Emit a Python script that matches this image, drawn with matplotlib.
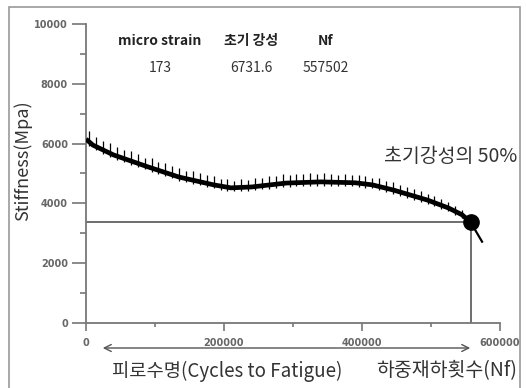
import numpy as np
import matplotlib
matplotlib.use('Agg')
import matplotlib.pyplot as plt
from matplotlib.patches import Rectangle

plt.rcParams['font.family'] = ['Noto Sans CJK KR', 'DejaVu Sans']

# stiffness trend (cycles, MPa)
cycles = [0, 10000, 40000, 90000, 135000, 185000, 210000, 240000, 290000,
          340000, 390000, 415000, 445000, 495000, 525000, 545000, 557502, 574000]
stiffness = [6150, 5950, 5620, 5220, 4880, 4620, 4520, 4550, 4680,
             4720, 4690, 4620, 4450, 4110, 3850, 3620, 3366, 2720]

# upward spikes along the curve, one every 10000 cycles (MPa above trend)
spike_start, spike_step = 5000, 10000
spike_height = [380, 340, 300, 360, 320, 280, 340, 300, 270, 330,
                290, 310, 280, 300, 260, 310, 290, 270, 300, 250,
                270, 230, 280, 250, 290, 260, 300, 270, 310, 280,
                300, 290, 310, 270, 300, 280, 260, 290, 250, 270,
                280, 240, 270, 250, 260, 230, 250, 220, 240, 210,
                230, 200, 210, 190, 170, 150]

micro_strain = 173
init_stiffness = 6731.6
Nf = 557502
half_stiffness = init_stiffness / 2

fig = plt.figure(figsize=(5.26, 3.88), dpi=100)
fig.patches.append(Rectangle((9 / 526, -0.01), 511 / 526, 1 - 7 / 388 + 0.01,
                             transform=fig.transFigure, fill=False,
                             edgecolor='#999999', lw=1.2))

ax = fig.add_axes([86 / 526, 65 / 388, 414 / 526, 299 / 388])
ax.set_xlim(0, 600000)
ax.set_ylim(0, 10000)

# trend (thick noisy band up to Nf, thin tail after) + spikes
ax.plot(cycles[:-1], stiffness[:-1], color='black', lw=3.4, solid_capstyle='butt', zorder=3)
ax.plot(cycles[-2:], stiffness[-2:], color='black', lw=1.6, zorder=3)
sx = spike_start + spike_step * np.arange(len(spike_height))
base = np.interp(sx, cycles, stiffness)
ax.vlines(sx, base - 120, base + np.array(spike_height), color='black', lw=0.9, zorder=3)

# 50% line and Nf marker
ax.plot([0, Nf], [half_stiffness, half_stiffness], color='#555555', lw=1.2, zorder=2)
ax.plot([Nf, Nf], [0, half_stiffness], color='#555555', lw=1.2, zorder=2)
ax.plot([Nf], [half_stiffness], 'o', color='black', ms=11, zorder=4)

for s in ['top', 'right']:
    ax.spines[s].set_visible(False)
for s in ['left', 'bottom']:
    ax.spines[s].set_color('#777777')
    ax.spines[s].set_linewidth(1.3)

ax.set_xticks([0, 200000, 400000, 600000])
ax.set_xticks([100000, 300000, 500000], minor=True)
ax.set_yticks([0, 2000, 4000, 6000, 8000, 10000])
ax.set_yticks([1000, 3000, 5000, 7000, 9000], minor=True)
ax.tick_params(axis='y', which='major', length=10, width=1.2, color='#777777', pad=3)
ax.tick_params(axis='y', which='minor', length=4.5, width=1.2, color='#777777')
ax.tick_params(axis='x', which='major', length=6, width=1.2, color='#777777', pad=5)
ax.tick_params(axis='x', which='minor', length=3, width=1.2, color='#777777')
for lab in ax.get_xticklabels() + ax.get_yticklabels():
    lab.set_fontsize(7)
    lab.set_fontweight('bold')
    lab.set_color('#666666')
    lab.set_family('DejaVu Sans')

# header table
hdr_y, val_y = 41, 68
cols = [160, 251, 326]
for x, h, v in zip(cols, ['micro strain', '초기 강성', 'Nf'],
                   [str(micro_strain), f'{init_stiffness}', str(Nf)]):
    fig.text(x / 526, 1 - hdr_y / 388, h, ha='center', va='center',
             fontsize=10, fontweight='bold', color='#222222')
    fig.text(x / 526, 1 - val_y / 388, v, ha='center', va='center',
             fontsize=10, color='#333333')

fig.text(517 / 526, 1 - 157 / 388, '초기강성의 50%', ha='right', va='center',
         fontsize=14, color='#333333')

fig.text(23 / 526, 1 - 161 / 388, 'Stiffness(Mpa)', rotation=90,
         ha='center', va='center', fontsize=13, color='#333333')

# arrow and axis captions
ax.annotate('', xy=(473 / 526, 1 - 348 / 388), xytext=(100 / 526, 1 - 348 / 388),
            xycoords='figure fraction', textcoords='figure fraction',
            arrowprops=dict(arrowstyle='<->,head_length=0.5,head_width=0.25',
                            color='#555555', lw=1.0), annotation_clip=False)
fig.text(112 / 526, 1 - 371 / 388, '피로수명(Cycles to Fatigue)', ha='left', va='center',
         fontsize=13.5, color='#333333')
fig.text(517 / 526, 1 - 371 / 388, '하중재하횟수(Nf)', ha='right', va='center',
         fontsize=14, color='#333333')

fig.savefig('out.png', dpi=100)
